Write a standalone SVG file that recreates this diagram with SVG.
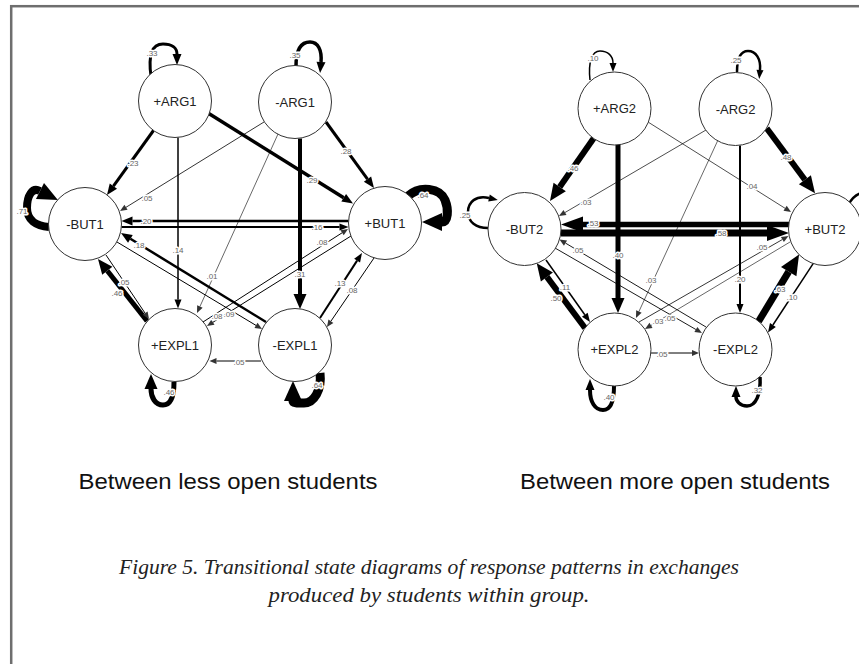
<svg xmlns="http://www.w3.org/2000/svg" width="859" height="664" viewBox="0 0 859 664">
<defs>
<style>
.node circle{fill:#fff;stroke:#333;stroke-width:1}
.node text{font-family:"Liberation Sans",Arial,sans-serif;font-size:13px;fill:#222;text-anchor:middle}
.e{fill:none;stroke:#000;stroke-linecap:butt}
.lbl{font-family:"Liberation Sans",Arial,sans-serif;font-size:8px;fill:#666;text-anchor:middle;stroke:#fff;stroke-width:3px;paint-order:stroke;stroke-linejoin:round}
.t1{font-family:"Liberation Sans",Arial,sans-serif;font-size:22px;fill:#111;text-anchor:middle}
.cap{font-family:"Liberation Serif","Times New Roman",serif;font-style:italic;font-size:21px;fill:#222;text-anchor:middle}
</style>
<marker id="m1" markerUnits="userSpaceOnUse" markerWidth="7" markerHeight="6" refX="0" refY="3" orient="auto" overflow="visible"><path d="M0,0 L7,3 L0,6 z" fill="#333"/></marker>
<marker id="m2" markerUnits="userSpaceOnUse" markerWidth="9" markerHeight="7" refX="0" refY="3.5" orient="auto" overflow="visible"><path d="M0,0 L9,3.5 L0,7 z" fill="#000"/></marker>
<marker id="m3" markerUnits="userSpaceOnUse" markerWidth="11" markerHeight="9" refX="0" refY="4.5" orient="auto" overflow="visible"><path d="M0,0 L11,4.5 L0,9 z" fill="#000"/></marker>
<marker id="m4" markerUnits="userSpaceOnUse" markerWidth="15" markerHeight="13" refX="0" refY="6.5" orient="auto" overflow="visible"><path d="M0,0 L15,6.5 L0,13 z" fill="#000"/></marker>
<marker id="m5" markerUnits="userSpaceOnUse" markerWidth="17" markerHeight="15" refX="0" refY="7.5" orient="auto" overflow="visible"><path d="M0,0 L17,7.5 L0,15 z" fill="#000"/></marker>
<marker id="m6" markerUnits="userSpaceOnUse" markerWidth="20" markerHeight="18" refX="0" refY="9" orient="auto" overflow="visible"><path d="M0,0 L20,9 L0,18 z" fill="#000"/></marker>
<marker id="m7" markerUnits="userSpaceOnUse" markerWidth="22" markerHeight="16" refX="0" refY="8" orient="auto" overflow="visible"><path d="M0,0 L22,8 L0,16 z" fill="#000"/></marker>
</defs>
<rect width="859" height="664" fill="#fff"/>
<rect x="11.2" y="6.2" width="900" height="700" fill="none" stroke="#6e6e6e" stroke-width="2.5"/>

<g id="connectors">
<!-- left diagram -->
<path class="e" d="M153.5,130.5 L113.4,186.1" stroke-width="3" marker-end="url(#m3)"/>
<path class="e" d="M264,122 L126,207.3" stroke="#555" stroke-width="0.8" marker-end="url(#m1)"/>
<path class="e" d="M178,137.5 L178,299.5" stroke-width="1.5" marker-end="url(#m2)"/>
<path class="e" d="M208,113 L343.7,197.7" stroke-width="3.5" marker-end="url(#m3)"/>
<path class="e" d="M326,122 L367.5,179.1" stroke-width="3" marker-end="url(#m3)"/>
<path class="e" d="M300,138.5 L300,294" stroke-width="4" marker-end="url(#m4)"/>
<path class="e" d="M278,134 L199.9,306.6" stroke="#aaa" stroke-width="0.6" marker-end="url(#m1)"/>
<path class="e" d="M348.5,221 L132.5,221" stroke-width="2.5" marker-end="url(#m3)"/>
<path class="e" d="M121.5,227 L339.5,227" stroke-width="2" marker-end="url(#m2)"/>
<path class="e" d="M266,322 L130.4,238.8" stroke-width="2.5" marker-end="url(#m3)"/>
<path class="e" d="M117,242 L256,325.4" stroke="#222" stroke-width="1" marker-end="url(#m1)"/>
<path class="e" d="M351,236 L212.9,322.3" stroke="#222" stroke-width="1" marker-end="url(#m1)"/>
<path class="e" d="M203,322 L342.1,232.8" stroke="#222" stroke-width="1" marker-end="url(#m1)"/>
<path class="e" d="M147,321 L107.3,270.8" stroke-width="5" marker-end="url(#m4)"/>
<path class="e" d="M106,255 L145.1,313.2" stroke="#222" stroke-width="1" marker-end="url(#m1)"/>
<path class="e" d="M261,361 L216.5,361" stroke="#222" stroke-width="1" marker-end="url(#m1)"/>
<path class="e" d="M320,318 L357.1,260.6" stroke-width="2" marker-end="url(#m2)"/>
<path class="e" d="M374,258 L330.9,321.2" stroke="#222" stroke-width="1" marker-end="url(#m1)"/>
<path class="e" d="M151,76 C148,55 152,44 163,44 C172,44 177,48 177,54" stroke-width="3" marker-end="url(#m3)"/>
<path class="e" d="M296,66 C296,48 302,42 310,42 C318,42 322,50 321,62" stroke-width="3.5" marker-end="url(#m3)"/>
<path class="e" d="M49,227 C36,226 27,220 27,208 C27,196 32,187 40,191" stroke-width="8" marker-end="url(#m6)"/>
<path class="e" d="M408,196 C420,185 440,188 445,200 C449,210 448,222 442,222" stroke-width="9" marker-end="url(#m6)"/>
<path class="e" d="M174,382 C174,396 171,405 163,405 C155,405 151,397 151,389" stroke-width="5" marker-end="url(#m4)"/>
<path class="e" d="M320,373 C322,390 314,403 304,403 C297,403 293,403 293,401" stroke-width="9" marker-end="url(#m6)"/>
<!-- right diagram -->
<path class="e" d="M593.5,138.5 L559.7,187" stroke-width="6" marker-end="url(#m5)"/>
<path class="e" d="M766.7,128.3 L804.9,179.7" stroke-width="6" marker-end="url(#m5)"/>
<path class="e" d="M618,145 L618,298" stroke-width="5" marker-end="url(#m4)"/>
<path class="e" d="M740,145.5 L740,304" stroke-width="2" marker-end="url(#m2)"/>
<path class="e" d="M648,122 L785.1,208.3" stroke="#aaa" stroke-width="0.7" marker-end="url(#m1)"/>
<path class="e" d="M706,130 L565,212.5" stroke="#aaa" stroke-width="0.7" marker-end="url(#m1)"/>
<path class="e" d="M718,140 L638.9,311.6" stroke="#aaa" stroke-width="0.6" marker-end="url(#m1)"/>
<path class="e" d="M789,224.5 L583,224.5" stroke-width="5.5" marker-end="url(#m7)"/>
<path class="e" d="M561,233 L767,233" stroke-width="7" marker-end="url(#m7)"/>
<path class="e" d="M706,327 L565.5,243.1" stroke="#333" stroke-width="0.9" marker-end="url(#m1)"/>
<path class="e" d="M555,248 L695.9,329.5" stroke="#333" stroke-width="0.9" marker-end="url(#m1)"/>
<path class="e" d="M639,322 L782.4,239.5" stroke="#777" stroke-width="0.8" marker-end="url(#m1)"/>
<path class="e" d="M790,242 L651,325.4" stroke="#aaa" stroke-width="0.6" marker-end="url(#m1)"/>
<path class="e" d="M585,328 L546.9,276.9" stroke-width="6" marker-end="url(#m5)"/>
<path class="e" d="M546,260 L584.8,314.7" stroke-width="1.5" marker-end="url(#m2)"/>
<path class="e" d="M651,353 L692,353" stroke="#222" stroke-width="1" marker-end="url(#m1)"/>
<path class="e" d="M758.5,321.5 L788.7,271.6" stroke-width="7" marker-end="url(#m6)"/>
<path class="e" d="M813.3,263.3 L772.9,325" stroke-width="1.5" marker-end="url(#m2)"/>
<path class="e" d="M590,80 C588,62 592,51 600,51 C608,51 613,56 613,63" stroke-width="1.5" marker-end="url(#m2)"/>
<path class="e" d="M737,72 C737,57 741,51 748,51 C756,51 761,59 760,70" stroke-width="2.5" marker-end="url(#m2)"/>
<path class="e" d="M488,228 C476,228 468,222 468,212 C468,202 476,195 489,198" stroke-width="2.5" marker-end="url(#m2)"/>
<path class="e" d="M849,204 C852,198 858,193 866,192" stroke-width="2.5"/>
<path class="e" d="M614,386 C614,400 611,410 603,410 C595,410 590,402 590,390" stroke-width="4" marker-end="url(#m3)"/>
<path class="e" d="M760,377 C761,394 756,406 747,406 C740,406 736,401 736,397" stroke-width="3.5" marker-end="url(#m3)"/>
</g>

<g id="edge-labels">
<text class="lbl" x="152" y="56">.33</text>
<text class="lbl" x="295" y="58">.35</text>
<text class="lbl" x="133" y="166">.23</text>
<text class="lbl" x="147" y="201">.05</text>
<text class="lbl" x="178" y="253">.14</text>
<text class="lbl" x="312" y="183">.29</text>
<text class="lbl" x="346" y="154">.28</text>
<text class="lbl" x="300" y="277">.31</text>
<text class="lbl" x="212" y="279">.01</text>
<text class="lbl" x="22" y="214">.71</text>
<text class="lbl" x="423" y="198">.64</text>
<text class="lbl" x="146" y="224">.20</text>
<text class="lbl" x="317" y="230">.16</text>
<text class="lbl" x="139" y="248">.18</text>
<text class="lbl" x="229" y="317">.09</text>
<text class="lbl" x="217" y="319">.08</text>
<text class="lbl" x="322" y="245">.08</text>
<text class="lbl" x="117" y="296">.46</text>
<text class="lbl" x="124" y="285">.05</text>
<text class="lbl" x="239" y="365">.05</text>
<text class="lbl" x="340" y="286">.13</text>
<text class="lbl" x="352" y="293">.08</text>
<text class="lbl" x="169" y="395">.46</text>
<text class="lbl" x="317" y="388">.64</text>

<text class="lbl" x="593" y="61">.10</text>
<text class="lbl" x="736" y="63">.25</text>
<text class="lbl" x="573" y="171">.46</text>
<text class="lbl" x="786" y="160">.48</text>
<text class="lbl" x="618" y="258">.40</text>
<text class="lbl" x="740" y="282">.20</text>
<text class="lbl" x="752" y="189">.04</text>
<text class="lbl" x="586" y="205">.03</text>
<text class="lbl" x="651" y="283">.03</text>
<text class="lbl" x="465" y="218">.25</text>
<text class="lbl" x="593" y="226">.53</text>
<text class="lbl" x="721" y="236">.58</text>
<text class="lbl" x="578" y="253">.05</text>
<text class="lbl" x="670" y="321">.05</text>
<text class="lbl" x="762" y="250">.05</text>
<text class="lbl" x="658" y="324">.03</text>
<text class="lbl" x="556" y="301">.50</text>
<text class="lbl" x="565" y="290">.11</text>
<text class="lbl" x="662" y="357">.05</text>
<text class="lbl" x="780" y="292">.63</text>
<text class="lbl" x="792" y="300">.10</text>
<text class="lbl" x="609" y="400">.40</text>
<text class="lbl" x="757" y="393">.32</text>
</g>

<g id="n-arg1p" class="node"><circle cx="175" cy="101" r="36.5"/><text x="175" y="105.5">+ARG1</text></g>
<g id="n-arg1m" class="node"><circle cx="295" cy="102" r="36.5"/><text x="295" y="106.5">-ARG1</text></g>
<g id="n-but1m" class="node"><circle cx="85" cy="224" r="36.5"/><text x="85" y="228.5">-BUT1</text></g>
<g id="n-but1p" class="node"><circle cx="385" cy="223" r="36.5"/><text x="385" y="227.5">+BUT1</text></g>
<g id="n-expl1p" class="node"><circle cx="175" cy="345" r="36.5"/><text x="175" y="349.5">+EXPL1</text></g>
<g id="n-expl1m" class="node"><circle cx="295" cy="345" r="36.5"/><text x="295" y="349.5">-EXPL1</text></g>

<g id="n-arg2p" class="node"><circle cx="614.5" cy="108.5" r="36.5"/><text x="614.5" y="113">+ARG2</text></g>
<g id="n-arg2m" class="node"><circle cx="735.5" cy="109" r="36.5"/><text x="735.5" y="113.5">-ARG2</text></g>
<g id="n-but2m" class="node"><circle cx="524.5" cy="229" r="36.5"/><text x="524.5" y="233.5">-BUT2</text></g>
<g id="n-but2p" class="node"><circle cx="825" cy="229" r="36.5"/><text x="825" y="233.5">+BUT2</text></g>
<g id="n-expl2p" class="node"><circle cx="614.5" cy="349.5" r="36.5"/><text x="614.5" y="354">+EXPL2</text></g>
<g id="n-expl2m" class="node"><circle cx="735.5" cy="349.5" r="36.5"/><text x="735.5" y="354">-EXPL2</text></g>

<text class="t1" x="228" y="489" textLength="299" lengthAdjust="spacingAndGlyphs">Between less open students</text>
<text class="t1" x="675" y="489" textLength="310" lengthAdjust="spacingAndGlyphs">Between more open students</text>
<text class="cap" x="429" y="574" textLength="620" lengthAdjust="spacingAndGlyphs">Figure 5. Transitional state diagrams of response patterns in exchanges</text>
<text class="cap" x="429" y="602" textLength="321" lengthAdjust="spacingAndGlyphs">produced by students within group.</text>
</svg>
